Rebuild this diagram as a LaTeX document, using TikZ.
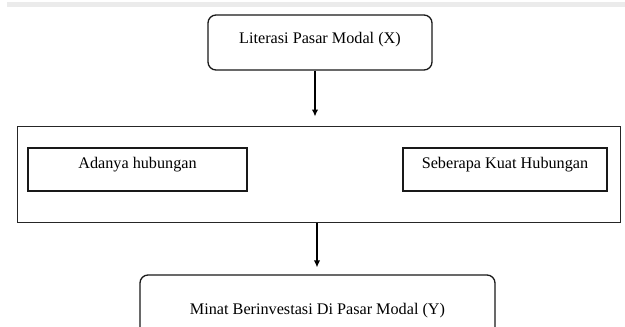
\documentclass[tikz,border=0pt]{standalone}
\usepackage{fontspec}
\setmainfont{Liberation Serif}
\usetikzlibrary{arrows.meta,calc}
\begin{document}
\begin{tikzpicture}[x=1pt,y=-1pt,
  txt/.style={font=\fontsize{16.2}{19}\selectfont, text=black},
  roundbox/.style={txt, draw=black!90, line width=1.3pt, rounded corners=8pt, inner sep=0pt},
  plainbox/.style={txt, draw=black!90, line width=1.3pt, inner sep=0pt},
  outerbox/.style={draw=black!85, line width=1pt, inner sep=0pt},
  arr/.style={draw=black, line width=1.3pt, -{Latex[length=7pt,width=6.5pt]}}
]
\useasboundingbox (0,0) rectangle (625,327);
\clip (0,0) rectangle (625,327);
\fill[black!8] (7,1.5) rectangle (625,7);
\node[roundbox, minimum width=224pt, minimum height=55pt, text height=12pt, text depth=10pt] (top) at (320,42.5) {Literasi Pasar Modal (X)};
\node[outerbox, minimum width=603pt, minimum height=96pt] (big) at (318.5,174) {};
\node[plainbox, minimum width=219pt, minimum height=43pt, text height=12pt, text depth=14pt] (left) at (137.5,169.5) {Adanya hubungan};
\node[plainbox, minimum width=204pt, minimum height=43pt, text height=12pt, text depth=14pt] (right) at (505,169.5) {Seberapa Kuat Hubungan};
\node[roundbox, minimum width=355pt, minimum height=70pt, text height=12pt, text depth=3pt] (bottom) at (317.5,310) {Minat Berinvestasi Di Pasar Modal (Y)};
\draw[arr, shorten >=9pt] (top.south -| 315,0) -- (big.north -| 315,0);
\draw[arr, shorten >=7pt] (big.south -| 317,0) -- (bottom.north -| 317,0);
\end{tikzpicture}
\end{document}
